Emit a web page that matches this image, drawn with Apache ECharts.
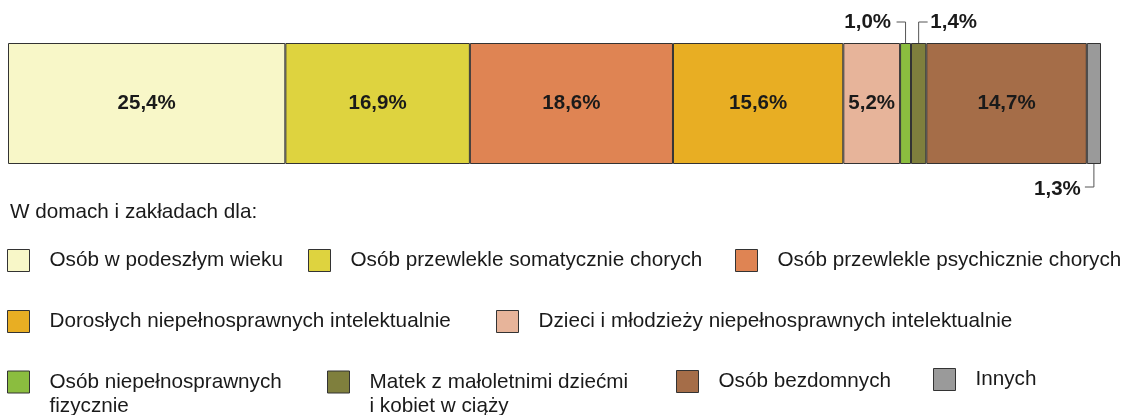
<!DOCTYPE html>
<html>
<head>
<meta charset="utf-8">
<script src="https://cdn.jsdelivr.net/npm/echarts@6/dist/echarts.min.js"></script>
<style>
  html, body { margin: 0; padding: 0; background: #fff; }
  #main { width: 1133px; height: 415px; }
</style>
</head>
<body>
<div id="main"></div>
<script>
// data
var categories = [
    'Osób w podeszłym wieku',
    'Osób przewlekle somatycznie chorych',
    'Osób przewlekle psychicznie chorych',
    'Dorosłych niepełnosprawnych intelektualnie',
    'Dzieci i młodzieży niepełnosprawnych intelektualnie',
    'Osób niepełnosprawnych\nfizycznie',
    'Matek z małoletnimi dziećmi\ni kobiet w ciąży',
    'Osób bezdomnych',
    'Innych'
];
var values = [25.4, 16.9, 18.6, 15.6, 5.2, 1.0, 1.4, 14.7, 1.3];
var colors = ['#f8f7c8', '#ded33f', '#df8453', '#e8ae23', '#e7b49a', '#8bbd3f', '#7f7f3d', '#a56d48', '#9a9a9a'];

// small segments get their label outside, with a leader line
var callouts = {
    5: { v: 'up', h: 'left' },
    6: { v: 'up', h: 'right' },
    8: { v: 'down', h: 'left' }
};

// legend layout: [left of icon, row centre]
var legendPos = [
    [7, 261], [308, 261], [735, 261],
    [7, 322], [496, 322],
    [7, 382], [327, 382], [676, 382], [933, 380]
];

var total = values.reduce(function (a, b) { return a + b; }, 0);
function fmt(v) { return v.toFixed(1).replace('.', ',') + '%'; }

var textColor = '#1a1a1a';
var font = 'Liberation Sans, Arial, sans-serif';

var series = categories.map(function (name, i) {
    var c = callouts[i];
    var label = {
        show: true,
        position: 'inside',
        fontFamily: font,
        fontSize: 20.5,
        fontWeight: 'bold',
        color: textColor,
        formatter: function (p) { return fmt(p.value); }
    };
    if (c) {
        if (c.v === 'up') {
            label.position = c.h === 'left' ? [-9, -21] : ['100%', -21];
            label.offset = c.h === 'left' ? [0, 0] : [4, 0];
        } else {
            label.position = [-6, '100%'];
            label.offset = [0, 25];
        }
        label.align = c.h === 'left' ? 'right' : 'left';
        label.verticalAlign = 'middle';
    }
    return {
        name: name,
        type: 'bar',
        stack: 'total',
        barWidth: 121,
        data: [values[i]],
        itemStyle: { color: colors[i], borderColor: '#333', borderWidth: 1 },
        label: label,
        emphasis: { disabled: true },
        silent: true
    };
});

// leader lines for the small segments
var calloutData = Object.keys(callouts).map(function (k) {
    var i = +k;
    var start = values.slice(0, i).reduce(function (a, b) { return a + b; }, 0);
    return [start + values[i] / 2, 0, i];
});

series.push({
    type: 'custom',
    silent: true,
    data: calloutData,
    renderItem: function (params, api) {
        var pt = api.coord([api.value(0), api.value(1)]);
        var c = callouts[api.value(2)];
        var half = 60.5;
        var y0 = c.v === 'up' ? pt[1] - half : pt[1] + half;
        var y1 = c.v === 'up' ? y0 - 21 : y0 + 23;
        var x1 = c.h === 'left' ? pt[0] - 9 : pt[0] + 9;
        return {
            type: 'polyline',
            shape: { points: [[pt[0], y0], [pt[0], y1], [x1, y1]] },
            style: { stroke: '#555', lineWidth: 1, fill: null }
        };
    },
    z: 3
});

var legends = categories.map(function (name, i) {
    var twoLine = name.indexOf('\n') >= 0;
    var p = legendPos[i];
    return {
        data: [name],
        left: p[0],
        top: twoLine ? p[1] - 36 : p[1] - 12,
        padding: 0,
        icon: 'rect',
        itemWidth: 22,
        itemHeight: 22,
        selectedMode: false,
        itemStyle: { borderColor: '#333', borderWidth: 1 },
        // empty first line keeps the first text line level with the icon
        formatter: twoLine ? function (n) { return '\n' + n; } : '{name}',
        textStyle: {
            fontFamily: font,
            fontSize: 20.7,
            lineHeight: twoLine ? 24 : 23,
            color: textColor,
            padding: [0, 0, 0, 15]
        }
    };
});

var myChart = echarts.init(document.getElementById('main'));
var option = {
    animation: false,
    title: {
        text: 'W domach i zakładach dla:',
        left: 10,
        top: 202,
        padding: 0,
        textStyle: {
            fontFamily: font,
            fontSize: 20.7,
            fontWeight: 'normal',
            color: textColor
        }
    },
    legend: legends,
    grid: { left: 8, right: 32, top: 43, height: 121 },
    xAxis: { type: 'value', min: 0, max: total, show: false },
    yAxis: { type: 'category', data: [''], show: false },
    series: series
};
myChart.setOption(option);
</script>
</body>
</html>
